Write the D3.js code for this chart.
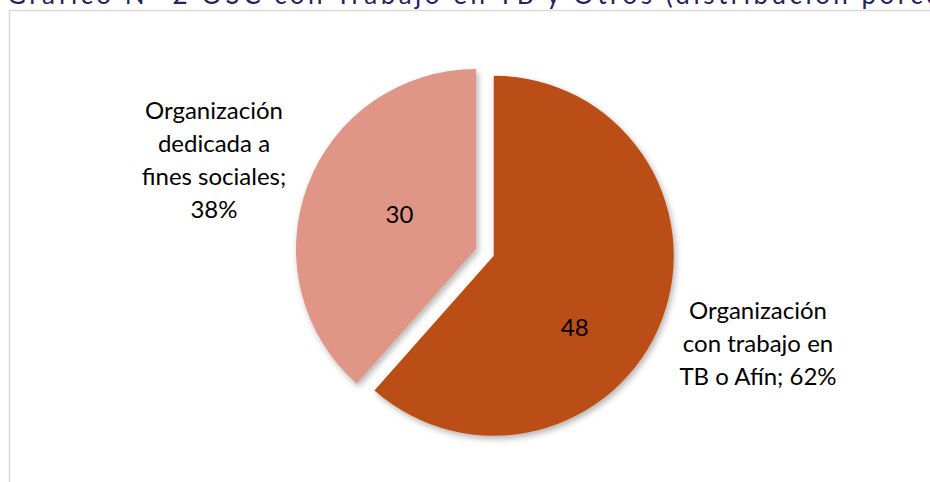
<!DOCTYPE html>
<html>
<head>
<meta charset="utf-8">
<script src="https://cdn.jsdelivr.net/npm/d3@7"></script>
<style>
  html, body { margin: 0; padding: 0; background: #ffffff; overflow: hidden; }
  svg { display: block; }
</style>
</head>
<body>
<svg id="chart" width="930" height="482"></svg>
<script>
// ---- data ----
const categories = ["Organización con trabajo en TB o Afín", "Organización dedicada a fines sociales"];
const values = [48, 30];
const percentLabels = ["62%", "38%"];
const outerLabelLines = [
  ["Organización", "con trabajo en", "TB o Afín; 62%"],
  ["Organización", "dedicada a", "fines sociales;", "38%"]
];
const colors = ["#BB4E12", "#E09686"];
const title = "Gráfico N° 2 OSC con Trabajo en TB y Otros (distribución porcentual)";

// ---- layout ----
const W = 930, H = 482;
const cx = 476, cy = 249, R = 180;
const explode = [19, 0];
const innerLabelRadius = [108, 84];
const innerLabelAngleShift = [0.36, 0.06];   // radians, fine tuning
const outerLabelPos = [[758, 319], [214, 119]];
const lineH = 33;
const fontFamily = "Lato, 'Open Sans', sans-serif";

const svg = d3.select("#chart");

const defs = svg.append("defs");
const f = defs.append("filter").attr("id", "shadow")
  .attr("x", "-20%").attr("y", "-20%").attr("width", "140%").attr("height", "140%");
f.append("feDropShadow").attr("dx", 2).attr("dy", 3).attr("stdDeviation", 3)
  .attr("flood-color", "#000").attr("flood-opacity", 0.3);

// frame
svg.append("rect")
  .attr("x", 9.5).attr("y", 10.5).attr("width", 940).attr("height", 490)
  .attr("fill", "#ffffff").attr("stroke", "#d9d9d9").attr("stroke-width", 1.5);

// title (cut off at top, as in the source image)
svg.append("text")
  .attr("x", 7).attr("y", 4)
  .attr("font-family", fontFamily)
  .attr("font-size", 26)
  .attr("letter-spacing", 3.5)
  .attr("fill", "#25225e")
  .text(title);

// pie
const pie = d3.pie().sort(null).value(d => d)(values);
const arc = d3.arc().innerRadius(0).outerRadius(R);

const g = svg.append("g").attr("transform", `translate(${cx},${cy})`);

pie.forEach((d, i) => {
  const mid = (d.startAngle + d.endAngle) / 2;
  const ox = Math.sin(mid) * explode[i];
  const oy = -Math.cos(mid) * explode[i];
  const sg = g.append("g").attr("transform", `translate(${ox},${oy})`);
  sg.append("path")
    .attr("d", arc(d))
    .attr("fill", colors[i])
    .attr("filter", "url(#shadow)");
  const a = mid + innerLabelAngleShift[i];
  const r = innerLabelRadius[i];
  sg.append("text")
    .attr("x", Math.sin(a) * r)
    .attr("y", -Math.cos(a) * r)
    .attr("dy", "0.35em")
    .attr("text-anchor", "middle")
    .attr("font-family", fontFamily)
    .attr("font-size", 24)
    .attr("fill", "#000")
    .text(d.data);
});

// outer labels
outerLabelLines.forEach((lines, i) => {
  const t = svg.append("text")
    .attr("text-anchor", "middle")
    .attr("font-family", fontFamily)
    .attr("font-size", 24)
    .attr("fill", "#000");
  lines.forEach((ln, j) => {
    t.append("tspan")
      .attr("x", outerLabelPos[i][0])
      .attr("y", outerLabelPos[i][1] + j * lineH)
      .text(ln);
  });
});
</script>
</body>
</html>
